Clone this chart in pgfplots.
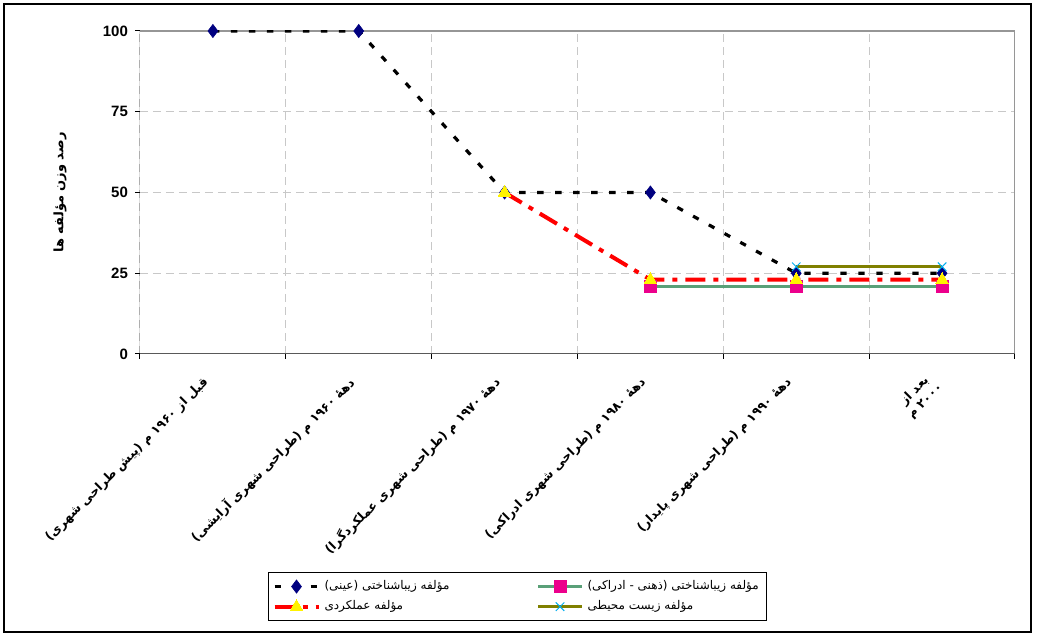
\documentclass[border=0pt]{standalone}
\usepackage{fontspec}
\setmainfont{Liberation Sans}
\newfontfamily\arabicfont[Script=Arabic]{DejaVu Sans}
\usepackage{pgfplots}
\pgfplotsset{compat=1.18}
\TeXXeTstate=1
\newcommand{\fa}[1]{{\arabicfont\beginR #1\endR}}
\definecolor{navy}{HTML}{000080}
\definecolor{seagreen}{RGB}{90,160,120}
\definecolor{olivec}{HTML}{808000}
\definecolor{gridgray}{RGB}{200,200,200}
\definecolor{bordergray}{RGB}{150,150,150}
\begin{document}
\begin{tikzpicture}
\useasboundingbox (0,0) rectangle (519.5pt,320.5pt);
\draw[line width=0.6pt] (2pt,4.5pt) rectangle (515.5pt,318.5pt);
\begin{axis}[
  at={(70pt,143.5pt)}, anchor=south west,
  scale only axis, width=437.5pt, height=161.5pt,
  xmin=-0.5, xmax=5.5, ymin=0, ymax=100,
  ytick={0,25,50,75,100},
  xtick={-0.5,0.5,...,5.5}, xticklabels={},
  extra x ticks={0,1,2,3,4,5},
  extra x tick labels={
    {\fa{قبل از ۱۹۶۰ م (پیش طراحی شهری)}},
    {\fa{دههٔ ۱۹۶۰ م (طراحی شهری آرایشی)}},
    {\fa{دههٔ ۱۹۷۰ م (طراحی شهری عملکردگرا)}},
    {\fa{دههٔ ۱۹۸۰ م (طراحی شهری ادراکی)}},
    {\fa{دههٔ ۱۹۹۰ م (طراحی شهری پایدار)}},
    {\fa{بعد از}\\\fa{۲۰۰۰ م}}},
  extra x tick style={grid=none, major tick length=0pt,
    tick label style={yshift=-11pt, xshift=-1pt, rotate=45, anchor=east, align=center, inner sep=3pt,
      font=\fontsize{6.2}{7.5}\selectfont\bfseries}},
  xmajorgrids, ymajorgrids,
  grid style={dash pattern=on 4pt off 2.5pt, color=gridgray, line width=0.5pt},
  axis line style={draw=none},
  tick align=outside, tick pos=left, major tick length=2.5pt,
  tick style={black, line width=0.5pt},
  yticklabel style={font=\fontsize{7.5}{9}\selectfont\bfseries},
  /pgf/number format/assume math mode=true,
  ylabel={\fa{رصد وزن مؤلفه ها}},
  every axis y label/.style={at={(-0.0914,0.5)}, anchor=center, rotate=90,
     font=\fontsize{6.5}{8}\selectfont\bfseries},
  legend columns=2,
  legend style={at={(0.1463,-0.675)}, anchor=north west, draw=black,
     line width=0.5pt, font=\fontsize{6}{7}\selectfont, inner sep=2pt,
     /tikz/every even column/.append style={column sep=4pt}},
  legend cell align=left,
  legend image code/.code={\draw[mark repeat=2,mark phase=2] plot coordinates {(0pt,0pt)(11pt,0pt)(22pt,0pt)};},
]
\draw[bordergray, line width=0.8pt] (rel axis cs:0,1) -- (rel axis cs:1,1) -- (rel axis cs:1,0);
\addplot[black, line width=1.6pt, dash pattern=on 3.2pt off 5.8pt,
  mark=diamond*, mark size=3.3pt, mark options={solid, fill=navy, draw=navy, line width=0.3pt}]
  coordinates {(0,100)(1,100)(2,50)(3,50)(4,25)(5,25)};
\addlegendentry{\makebox[100pt][l]{\fa{مؤلفه زیباشناختی (عینی)}}}
\addplot[seagreen, line width=1.5pt,
  mark=square*, mark size=2.5pt, mark options={solid, fill=magenta, draw=magenta}]
  coordinates {(3,21)(4,21)(5,21)};
\addlegendentry{\fa{مؤلفه زیباشناختی (ذهنی - ادراکی)}}
\addplot[red, line width=2pt, dash pattern=on 10pt off 4pt on 2.5pt off 4pt,
  mark=triangle*, mark size=3.6pt, mark options={solid, fill=yellow, draw=yellow, line width=0pt}]
  coordinates {(2,50)(3,23)(4,23)(5,23)};
\addlegendentry{\makebox[100pt][l]{\fa{مؤلفه عملکردی}\rule[-6pt]{0pt}{0pt}}}
\addplot[olivec, line width=1.5pt,
  mark=x, mark size=3pt, mark options={solid, draw=cyan, line width=0.5pt}]
  coordinates {(4,27)(5,27)};
\addlegendentry{\fa{مؤلفه زیست محیطی}\rule[-6pt]{0pt}{0pt}}
\draw[black, line width=0.5pt] (rel axis cs:0,0) -- (rel axis cs:0,1);
\draw[black!65, line width=1.2pt] (rel axis cs:0,0) -- (rel axis cs:1,0);
\end{axis}
\end{tikzpicture}
\end{document}
